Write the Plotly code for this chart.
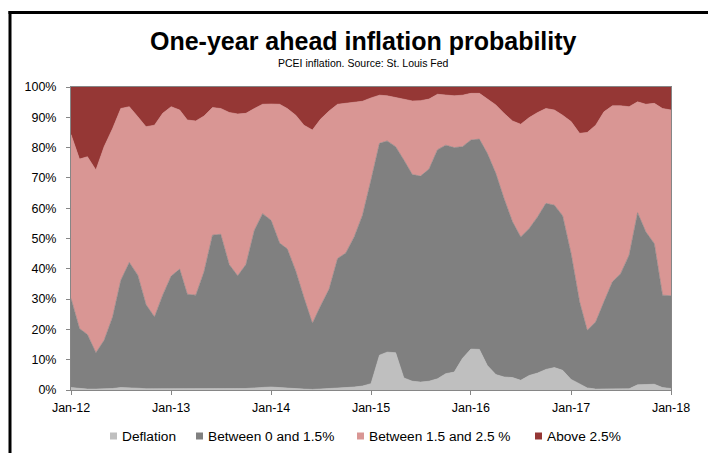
import pandas as pd
import plotly.graph_objects as go

months = pd.date_range("2012-01-01", periods=73, freq="MS")

deflation = [0.8, 0.5, 0.3, 0.3, 0.3, 0.5, 0.8, 0.8, 0.6, 0.4, 0.4, 0.5,
             0.5, 0.6, 0.4, 0.4, 0.5, 0.6, 0.6, 0.5, 0.5, 0.5, 0.7, 0.9,
             1.0, 0.8, 0.6, 0.4, 0.3, 0.2, 0.3, 0.5, 0.6, 0.8, 1.0, 1.3,
             2.1, 11.5, 12.5, 12.3, 4.0, 2.9, 2.6, 2.9, 3.7, 5.4, 5.9, 10.4,
             13.5, 13.4, 8.1, 5.1, 4.3, 4.1, 3.2, 4.8, 5.6, 6.8, 7.4, 6.5,
             3.5, 2.1, 0.7, 0.3, 0.3, 0.3, 0.3, 0.4, 1.7, 1.7, 1.9, 0.8,
             0.5]

between_0_15 = [29.4, 19.8, 18.0, 12.0, 16.1, 23.6, 35.4, 41.3, 37.3, 27.8, 23.7, 30.8,
                37.1, 39.3, 31.2, 30.9, 38.5, 50.5, 50.8, 40.9, 37.2, 40.9, 52.0, 57.3,
                55.0, 47.7, 46.0, 38.9, 30.2, 21.8, 27.5, 32.8, 42.8, 44.4, 49.6, 56.4,
                67.2, 69.9, 69.7, 68.0, 71.9, 68.2, 68.0, 70.0, 75.6, 75.4, 74.1, 69.9,
                69.0, 69.4, 70.0, 66.4, 58.9, 51.4, 47.3, 48.5, 51.6, 54.8, 53.6, 51.0,
                41.5, 27.0, 19.0, 22.2, 28.8, 35.4, 38.1, 44.1, 56.8, 50.5, 46.4, 30.5,
                30.6]

between_15_25 = [54.1, 55.9, 58.7, 60.3, 63.9, 62.2, 56.7, 51.4, 52.3, 58.7, 63.3, 60.0,
                 55.9, 52.5, 57.5, 57.5, 51.4, 42.1, 41.5, 50.2, 53.4, 49.9, 40.2, 36.1,
                 38.4, 45.8, 46.3, 51.4, 56.9, 63.8, 61.6, 58.8, 50.9, 49.4, 44.5, 37.6,
                 27.1, 15.9, 14.9, 16.3, 20.1, 24.3, 24.9, 23.1, 18.3, 16.5, 17.1, 17.0,
                 15.4, 15.1, 18.1, 22.6, 28.1, 33.3, 37.2, 36.6, 34.4, 31.3, 31.4, 33.2,
                 43.6, 55.6, 65.3, 64.9, 62.7, 58.1, 55.4, 49.0, 36.6, 42.1, 46.3, 61.6,
                 61.3]

above_25 = [15.7, 23.8, 23.0, 27.4, 19.7, 13.7, 7.1, 6.5, 9.8, 13.1, 12.6, 8.7,
            6.5, 7.6, 10.9, 11.2, 9.6, 6.8, 7.1, 8.4, 8.9, 8.7, 7.1, 5.7,
            5.6, 5.7, 7.1, 9.3, 12.6, 14.2, 10.6, 7.9, 5.7, 5.4, 4.9, 4.7,
            3.6, 2.7, 2.9, 3.4, 4.0, 4.6, 4.5, 4.0, 2.4, 2.7, 2.9, 2.7,
            2.1, 2.1, 3.8, 5.9, 8.7, 11.2, 12.3, 10.1, 8.4, 7.1, 7.6, 9.3,
            11.4, 15.3, 15.0, 12.6, 8.2, 6.2, 6.2, 6.5, 4.9, 5.7, 5.4, 7.1,
            7.6]

series_names = ["Deflation", "Between 0 and 1.5%", "Between 1.5 and 2.5 %", "Above 2.5%"]
series_values = [deflation, between_0_15, between_15_25, above_25]
colors = ["#BFBFBF", "#808080", "#D99694", "#953735"]

title_text = "One-year ahead inflation probability"
subtitle_text = "PCEI inflation. Source: St. Louis Fed"
year_ticks = pd.date_range("2012-01-01", periods=7, freq="12MS")
year_labels = ["Jan-12", "Jan-13", "Jan-14", "Jan-15", "Jan-16", "Jan-17", "Jan-18"]

FONT = "Liberation Sans, Arial, sans-serif"
W, H = 708, 453
L, R, T, B = 71, 37, 87, 63
PW, PH = W - L - R, H - T - B


def px(x):
    return (x - L) / PW


def py(y):
    return (H - B - y) / PH


fig = go.Figure()
for name, vals, col in zip(series_names, series_values, colors):
    fig.add_trace(go.Scatter(
        x=months, y=vals, name=name, mode="lines", stackgroup="one",
        line=dict(color=col, width=0.6), fillcolor=col, showlegend=False,
    ))

axis_common = dict(showgrid=False, zeroline=False, showline=True, linecolor="#868686",
                   linewidth=1, mirror=True, ticks="outside", ticklen=4,
                   tickcolor="#868686", tickfont=dict(family=FONT, size=12.5, color="#000"))

fig.update_xaxes(range=[months[0], months[-1]], tickvals=list(year_ticks),
                 ticktext=year_labels, ticklabelstandoff=2, **axis_common)
fig.update_yaxes(range=[0, 100], tickvals=list(range(0, 101, 10)),
                 ticktext=[f"{v}%" for v in range(0, 101, 10)], ticklabelstandoff=7,
                 **axis_common)

annotations = [
    dict(text=f"<b>{title_text}</b>", x=px(363), y=py(41), xref="paper", yref="paper",
         showarrow=False, xanchor="center", yanchor="middle",
         font=dict(family=FONT, size=25, color="#000")),
    dict(text=subtitle_text, x=px(363), y=py(63), xref="paper", yref="paper",
         showarrow=False, xanchor="center", yanchor="middle",
         font=dict(family=FONT, size=10.5, color="#000")),
]
shapes = [
    dict(type="line", xref="paper", yref="paper", x0=px(8.5), x1=px(712), y0=py(12.5), y1=py(12.5),
         line=dict(color="#000", width=3)),
    dict(type="line", xref="paper", yref="paper", x0=px(10), x1=px(10), y0=py(11), y1=py(460),
         line=dict(color="#000", width=3)),
]

# legend (squares + labels)
legend_x = [110, 196, 357, 535]
for name, col, lx in zip(series_names, colors, legend_x):
    shapes.append(dict(type="rect", xref="paper", yref="paper", x0=px(lx), x1=px(lx + 7),
                       y0=py(439.5), y1=py(432.5), fillcolor=col, line=dict(width=0)))
    annotations.append(dict(text=name, x=px(lx + 10), y=py(436), xref="paper", yref="paper",
                            showarrow=False, xanchor="left", yanchor="middle",
                            font=dict(family=FONT, size=13.7, color="#000")))

fig.update_layout(
    width=W, height=H, margin=dict(l=L, r=R, t=T, b=B),
    paper_bgcolor="white", plot_bgcolor="white",
    showlegend=False, annotations=annotations, shapes=shapes,
    font=dict(family=FONT),
)

fig.write_html("out.html")
